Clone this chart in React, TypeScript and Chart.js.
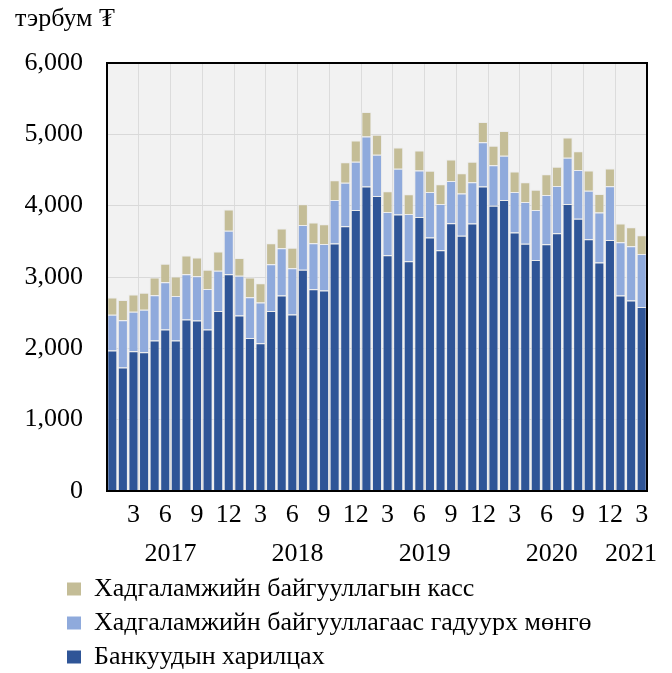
import React, { useEffect, useRef } from 'react';
import { Chart, registerables } from 'chart.js';

Chart.register(...registerables);

// ---- data ----
const years = ['2017', '2018', '2019', '2020', '2021'];
const monthsPerYear = [12, 12, 12, 12, 3];
const seriesNames = [
  'Банкуудын харилцах',
  'Хадгаламжийн байгууллагаас гадуурх мөнгө',
  'Хадгаламжийн байгууллагын касс',
];
const bankAccounts = [
  1970, 1730, 1960, 1945, 2110, 2265, 2110, 2405, 2390, 2265, 2525, 3040,
  2460, 2145, 2070, 2525, 2740, 2475, 3100, 2830, 2810, 3470, 3710, 3940,
  4270, 4135, 3305, 3875, 3220, 3840, 3555, 3375, 3755, 3580, 3750, 4270,
  4000, 4080, 3625, 3465, 3240, 3460, 3615, 4025, 3815, 3530, 3205, 3520,
  2740, 2670, 2580,
];
const currencyOutside = [
  502, 662, 554, 596, 634, 662, 624, 634, 619, 568, 563, 610,
  559, 572, 573, 652, 662, 648, 629, 643, 652, 611, 610, 676,
  699, 578, 606, 643, 662, 653, 638, 647, 591, 592, 578, 620,
  568, 620, 568, 587, 700, 690, 662, 648, 685, 680, 699, 751,
  746, 761, 742,
];
const vaultCash = [
  240, 286, 239, 239, 249, 258, 273, 262, 263, 268, 268, 296,
  249, 277, 268, 296, 277, 286, 291, 291, 277, 277, 287, 296,
  343, 281, 291, 296, 277, 282, 296, 277, 301, 281, 286, 282,
  272, 347, 287, 277, 282, 291, 268, 282, 263, 282, 258, 249,
  263, 268, 263,
];
const colors = ['#2F5597', '#8FAADC', '#C4BD97'];
const yMin = 0;
const yMax = 6000;
const yStep = 1000;
const unitLabel = 'тэрбум ₮';

// derived category structures
const monthNumbers: number[] = [];
const categories: string[] = [];
years.forEach((y, yi) => {
  for (let m = 1; m <= monthsPerYear[yi]; m++) {
    monthNumbers.push(m);
    categories.push(`${y}-${m}`);
  }
});
const totalMonths = categories.length;
const yearCenters: number[] = [];
{
  let start = 0;
  monthsPerYear.forEach((n) => {
    yearCenters.push(start + n / 2);
    start += n;
  });
}

const FONT = 'Liberation Serif';
const LEGEND_LEFT = 59;

const frame = {
  id: 'frame',
  afterLayout(chart: any) {
    if (chart.legend) chart.legend.left = LEGEND_LEFT;
  },
  beforeDraw(chart: any) {
    const { ctx, chartArea: a } = chart;
    ctx.save();
    ctx.fillStyle = '#F2F2F2';
    ctx.fillRect(a.left, a.top, a.right - a.left, a.bottom - a.top);
    ctx.restore();
  },
  afterDatasetsDraw(chart: any) {
    const { ctx, chartArea: a } = chart;
    ctx.save();
    ctx.strokeStyle = '#000';
    ctx.lineWidth = 2;
    ctx.strokeRect(a.left, a.top, a.right - a.left, a.bottom - a.top);
    ctx.restore();
  },
};

export default function App() {
  const ref = useRef<HTMLCanvasElement>(null);
  useEffect(() => {
    if (!ref.current) return;
    const series = [bankAccounts, currencyOutside, vaultCash];
    const chart = new Chart(ref.current, {
      type: 'bar',
      data: {
        labels: categories,
        datasets: series.map((d, i) => ({
          label: seriesNames[i],
          data: d,
          backgroundColor: colors[i],
          borderColor: 'rgba(235,235,235,0.9)',
          borderWidth: 1,
          barPercentage: 0.95,
          categoryPercentage: 1,
          xAxisID: 'x',
          yAxisID: 'y',
        })),
      },
      options: {
        responsive: false,
        animation: false,
        layout: { padding: { left: 15, right: 25, top: 63, bottom: 0 } },
        plugins: {
          tooltip: { enabled: false },
          legend: {
            position: 'bottom',
            align: 'start',
            reverse: true,
            labels: {
              boxWidth: 14,
              boxHeight: 13,
              padding: 8,
              color: '#000',
              font: { family: FONT, size: 26 },
              generateLabels: (c: any) =>
                (Chart.defaults.plugins.legend.labels as any)
                  .generateLabels(c)
                  .map((l: any) => ({ ...l, lineWidth: 0, strokeStyle: 'transparent' })),
            },
          },
        },
        scales: {
          x: {
            type: 'category',
            stacked: true,
            offset: true,
            grid: {
              offset: true,
              drawTicks: false,
              lineWidth: 1,
              color: (ctx: any) =>
                ctx.index > 0 && ctx.index < totalMonths && ctx.index % 3 === 0
                  ? '#DCDCDC'
                  : 'rgba(0,0,0,0)',
            },
            border: { display: false },
            ticks: {
              autoSkip: false,
              maxRotation: 0,
              minRotation: 0,
              padding: 9,
              color: '#000',
              font: { family: FONT, size: 26 },
              callback: (_v: any, i: number) =>
                monthNumbers[i] % 3 === 0 ? String(monthNumbers[i]) : '',
            },
            afterFit: (s: any) => {
              s.height = 39;
            },
          },
          x2: {
            type: 'linear',
            position: 'bottom',
            weight: 1,
            offset: false,
            min: 0,
            max: totalMonths,
            grid: { display: false, drawTicks: false, offset: false },
            border: { display: false },
            ticks: {
              autoSkip: false,
              maxRotation: 0,
              padding: 9,
              color: '#000',
              font: { family: FONT, size: 26 },
              callback: (_v: any, i: number) => years[i],
            },
            afterBuildTicks: (s: any) => {
              s.ticks = yearCenters.map((value) => ({ value }));
            },
            afterFit: (s: any) => {
              s.height = 38;
            },
          },
          y: {
            stacked: true,
            min: yMin,
            max: yMax,
            grid: { color: '#D9D9D9', drawTicks: false, lineWidth: 1 },
            border: { display: false },
            ticks: {
              stepSize: yStep,
              padding: 24,
              color: '#000',
              font: { family: FONT, size: 26 },
              callback: (v: any) => Number(v).toLocaleString('en-US'),
            },
            afterFit: (s: any) => {
              s.width = 92;
            },
          },
        },
      } as any,
      plugins: [frame],
    });
    return () => chart.destroy();
  }, []);

  return (
    <div
      style={{
        position: 'absolute',
        left: 0,
        top: 0,
        width: 672,
        height: 673,
        overflow: 'hidden',
        background: '#fff',
      }}
    >
      <div
        style={{
          position: 'absolute',
          left: 15,
          top: 3,
          fontFamily: FONT,
          fontSize: 26,
          color: '#000',
          whiteSpace: 'nowrap',
        }}
      >
        {unitLabel}
      </div>
      <canvas ref={ref} width={672} height={680} style={{ display: 'block' }} />
    </div>
  );
}
